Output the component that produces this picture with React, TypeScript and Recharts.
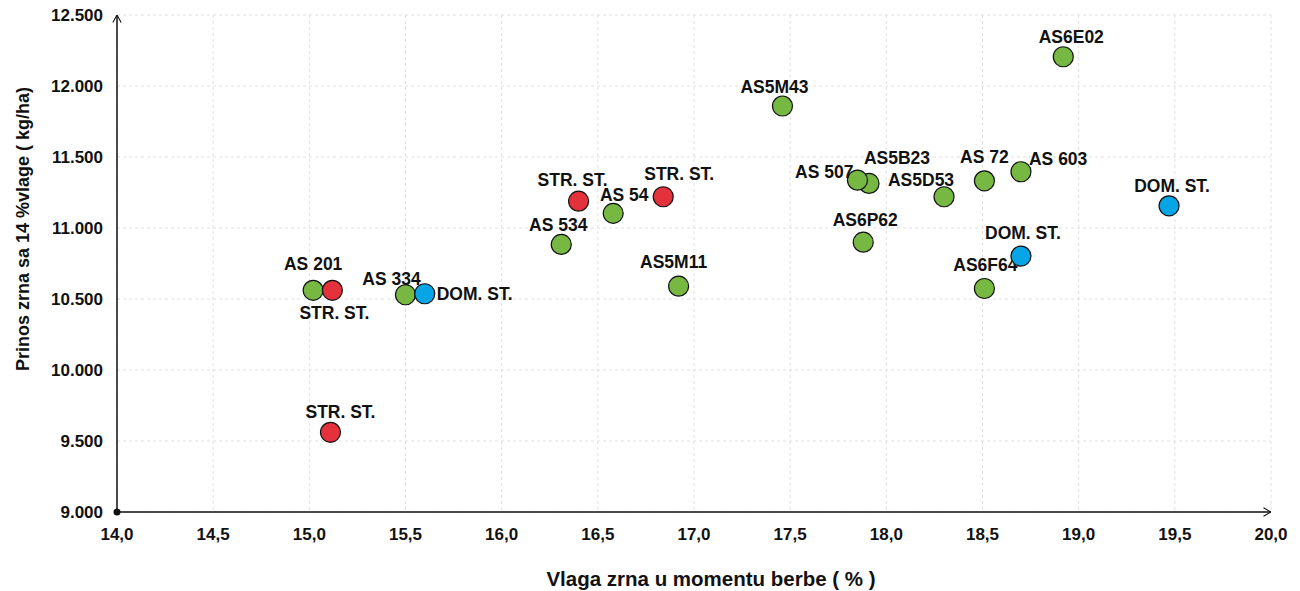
import { ScatterChart, Scatter, XAxis, YAxis, CartesianGrid, ReferenceDot } from "recharts";

// hybrids (green)
const hybridNames = ["AS 201", "AS 334", "AS 534", "AS 54", "AS5M11", "AS5M43", "AS5B23", "AS 507", "AS5D53", "AS6P62", "AS 72", "AS 603", "AS6F64", "AS6E02"];
const hybridMoisture = [15.02, 15.5, 16.31, 16.58, 16.92, 17.46, 17.91, 17.85, 18.3, 17.88, 18.51, 18.7, 18.51, 18.92];
const hybridYield = [10561, 10530, 10884, 11103, 10590, 11859, 11314, 11337, 11220, 10900, 11332, 11396, 10574, 12206];

// standard checks
const strNames = ["STR. ST.", "STR. ST.", "STR. ST.", "STR. ST."];
const strMoisture = [15.12, 15.11, 16.4, 16.84];
const strYield = [10561, 9561, 11189, 11220];

const domNames = ["DOM. ST.", "DOM. ST.", "DOM. ST."];
const domMoisture = [15.6, 18.7, 19.47];
const domYield = [10537, 10802, 11156];

const xTicks = [14, 14.5, 15, 15.5, 16, 16.5, 17, 17.5, 18, 18.5, 19, 19.5, 20];
const yTicks = [9000, 9500, 10000, 10500, 11000, 11500, 12000, 12500];

// label placement per point: [dx, dy, anchor]
type Place = [number, number, "start" | "middle" | "end"];
const hybridLabelPos: Place[] = [
  [0, -26, "middle"],
  [-14, -16, "middle"],
  [-3, -19, "middle"],
  [11, -18, "middle"],
  [-5, -24, "middle"],
  [-8, -19, "middle"],
  [28, -25, "middle"],
  [-4, -8, "end"],
  [-23, -17, "middle"],
  [2, -22, "middle"],
  [0, -24, "middle"],
  [8, -13, "start"],
  [1, -23, "middle"],
  [8, -20, "middle"],
];
const strLabelPos: Place[] = [
  [2, 23, "middle"],
  [10, -20, "middle"],
  [-6, -21, "middle"],
  [16, -23, "middle"],
];
const domLabelPos: Place[] = [
  [12, 0, "start"],
  [2, -23, "middle"],
  [3, -20, "middle"],
];

const FONT = "'Liberation Sans', Arial, Helvetica, sans-serif";

const build = (names: string[], xs: number[], ys: number[]) =>
  names.map((name, idx) => ({ name, idx, x: xs[idx], y: ys[idx] }));

const hybridData = build(hybridNames, hybridMoisture, hybridYield);
const strData = build(strNames, strMoisture, strYield);
const domData = build(domNames, domMoisture, domYield);

function makeShape(fill: string, places: Place[]) {
  return (props: any) => {
    const { cx, cy, payload } = props;
    const [dx, dy, anchor] = places[payload.idx];
    return (
      <g>
        <circle cx={cx} cy={cy} r={10} fill={fill} stroke="#111" strokeWidth={1.2} />
        <text
          x={cx + dx}
          y={cy + dy}
          textAnchor={anchor}
          dominantBaseline="central"
          fontFamily={FONT}
          fontWeight="bold"
          fontSize={17.5}
          fill="#111"
        >
          {payload.name}
        </text>
      </g>
    );
  };
}

const fmtX = (v: number) => v.toFixed(1).replace(".", ",");
const fmtY = (v: number) => `${Math.floor(v / 1000)}.${String(v % 1000).padStart(3, "0")}`;

const tickStyle = { fontFamily: FONT, fontWeight: "bold", fontSize: 17, fill: "#111" };

export default function App() {
  return (
    <div style={{ position: "absolute", left: 0, top: 0, width: 1300, height: 591, background: "#fff" }}>
      <ScatterChart width={1300} height={591} margin={{ top: 15, right: 29, bottom: 0, left: 0 }}>
        <defs>
          <marker
            id="arrowHead"
            viewBox="0 0 10 12"
            refX="10"
            refY="6"
            markerWidth="9"
            markerHeight="10"
            markerUnits="userSpaceOnUse"
            orient="auto-start-reverse"
          >
            <path d="M1,1 L10,6 L1,11" fill="none" stroke="#111" strokeWidth={1.3} />
          </marker>
        </defs>
        <CartesianGrid stroke="#e0e0e0" strokeDasharray="3 3" />
        <XAxis
          type="number"
          dataKey="x"
          domain={[14, 20]}
          ticks={xTicks}
          tickFormatter={fmtX}
          height={79}
          tickLine={false}
          tickSize={6}
          tickMargin={10}
          tick={tickStyle}
          axisLine={{ stroke: "#111", strokeWidth: 1.5, markerEnd: "url(#arrowHead)" }}
          label={{
            content: () => (
              <text x={711} y={578} textAnchor="middle" dominantBaseline="central" fontFamily={FONT} fontWeight="bold" fontSize={20.5} fill="#111">
                Vlaga zrna u momentu berbe ( % )
              </text>
            ),
          }}
        />
        <YAxis
          type="number"
          dataKey="y"
          domain={[9000, 12500]}
          ticks={yTicks}
          tickFormatter={fmtY}
          width={117}
          tickLine={false}
          tickSize={6}
          tickMargin={8}
          tick={tickStyle}
          axisLine={{ stroke: "#111", strokeWidth: 1.5, markerStart: "url(#arrowHead)" }}
          label={{
            content: () => (
              <text
                x={23}
                y={229}
                transform="rotate(-90 23 229)"
                textAnchor="middle"
                dominantBaseline="central"
                fontFamily={FONT}
                fontWeight="bold"
                fontSize={18}
                fill="#111"
              >
                Prinos zrna sa 14 %vlage ( kg/ha)
              </text>
            ),
          }}
        />
        <ReferenceDot x={14} y={9000} r={3.5} fill="#111" stroke="none" ifOverflow="visible" />
        <Scatter data={hybridData} isAnimationActive={false} shape={makeShape("#77b843", hybridLabelPos)} />
        <Scatter data={strData} isAnimationActive={false} shape={makeShape("#e3323b", strLabelPos)} />
        <Scatter data={domData} isAnimationActive={false} shape={makeShape("#06a6e6", domLabelPos)} />
      </ScatterChart>
    </div>
  );
}
